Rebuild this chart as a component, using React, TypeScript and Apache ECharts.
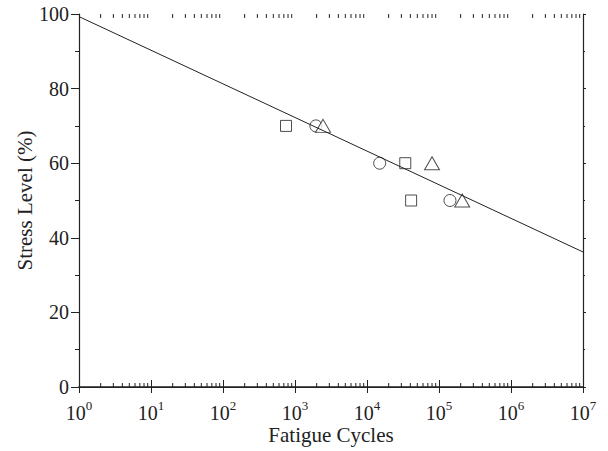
import React, { useEffect, useRef } from "react";
import * as echarts from "echarts";

const squareData: [number, number][] = [[750, 70], [34000, 60], [41000, 50]];
const circleData: [number, number][] = [[1950, 70], [15000, 60], [142000, 50]];
const triangleData: [number, number][] = [[2450, 70], [80000, 60], [210000, 50]];
const fitLine: [number, number][] = [[1, 99.3], [1e7, 36.2]];
const decades = [0, 1, 2, 3, 4, 5, 6];
const minorMultipliers = [2, 3, 4, 5, 6, 7, 8, 9];

const minorTicks: number[][] = [];
decades.forEach((d) => minorMultipliers.forEach((m) => minorTicks.push([m * Math.pow(10, d), 0])));

const FONT = "Liberation Serif";
const INK = "#222";

export default function App() {
  const ref = useRef<HTMLDivElement>(null);
  useEffect(() => {
    if (!ref.current) return;
    const chart = echarts.init(ref.current, null, { renderer: "svg" });
    const axisLine = { show: true, lineStyle: { color: INK, width: 1.2 } };
    const markerStyle = { color: "#fff", borderColor: INK, borderWidth: 1 };
    chart.setOption({
      animation: false,
      backgroundColor: "#fff",
      textStyle: { fontFamily: FONT },
      grid: { left: 79, right: 25, top: 14, bottom: 64 },
      xAxis: [
        {
          type: "log",
          logBase: 10,
          min: 1,
          max: 1e7,
          position: "bottom",
          axisLine,
          axisTick: { show: true, inside: true, length: 7, lineStyle: { color: INK } },
          splitLine: { show: false },
          axisLabel: {
            color: INK,
            fontFamily: FONT,
            fontSize: 20,
            margin: 12,
            formatter: (v: number) => "10{s|" + Math.round(Math.log10(v)) + "}",
            rich: { s: { fontFamily: FONT, fontSize: 13, color: INK, padding: [0, 0, 14, 0] } },
          },
          name: "Fatigue Cycles",
          nameLocation: "middle",
          nameGap: 37,
          nameMoveOverlap: false,
          nameTextStyle: { color: INK, fontFamily: FONT, fontSize: 21 },
        },
        {
          type: "log",
          logBase: 10,
          min: 1,
          max: 1e7,
          position: "top",
          axisLine: { show: true, lineStyle: { color: INK, width: 1.6 } },
          axisTick: { show: true, inside: true, length: 6, lineStyle: { color: INK } },
          axisLabel: { show: false },
          splitLine: { show: false },
        },
      ],
      yAxis: [
        {
          type: "value",
          min: 0,
          max: 100,
          interval: 20,
          position: "left",
          axisLine,
          axisTick: { show: true, inside: false, length: 8, lineStyle: { color: INK } },
          minorTick: { show: true, splitNumber: 2, length: 4, lineStyle: { color: INK } },
          splitLine: { show: false },
          axisLabel: { color: INK, fontFamily: FONT, fontSize: 20, margin: 10 },
          name: "Stress Level (%)",
          nameLocation: "middle",
          nameGap: 44,
          nameMoveOverlap: false,
          nameTextStyle: { color: INK, fontFamily: FONT, fontSize: 21 },
        },
        {
          type: "value",
          min: 0,
          max: 100,
          interval: 20,
          position: "right",
          axisLine,
          axisTick: { show: true, inside: false, length: 3, lineStyle: { color: INK } },
          minorTick: { show: true, splitNumber: 2, length: 2, lineStyle: { color: INK } },
          splitLine: { show: false },
          axisLabel: { show: false },
        },
      ],
      series: [
        {
          type: "custom",
          silent: true,
          clip: false,
          xAxisIndex: 0,
          yAxisIndex: 0,
          data: minorTicks,
          renderItem: (params: any, api: any) => {
            const v = api.value(0);
            const b = api.coord([v, 0]);
            const t = api.coord([v, 100]);
            const style = { stroke: INK, lineWidth: 1 };
            return {
              type: "group",
              children: [
                { type: "line", shape: { x1: b[0], y1: b[1], x2: b[0], y2: b[1] - 4 }, style },
                { type: "line", shape: { x1: t[0], y1: t[1], x2: t[0], y2: t[1] + 4 }, style },
              ],
            };
          },
        },
        {
          type: "line",
          data: fitLine,
          symbol: "none",
          lineStyle: { color: INK, width: 1 },
        },
        {
          type: "scatter",
          data: squareData,
          symbol: "rect",
          symbolSize: 11,
          itemStyle: markerStyle,
        },
        {
          type: "scatter",
          data: circleData,
          symbol: "circle",
          symbolSize: 12,
          itemStyle: markerStyle,
        },
        {
          type: "scatter",
          data: triangleData,
          symbol: "triangle",
          symbolSize: [15, 13],
          itemStyle: markerStyle,
        },
      ],
    });
    return () => chart.dispose();
  }, []);
  return (
    <div
      ref={ref}
      style={{ position: "fixed", left: 0, top: 0, width: 608, height: 451 }}
    />
  );
}
